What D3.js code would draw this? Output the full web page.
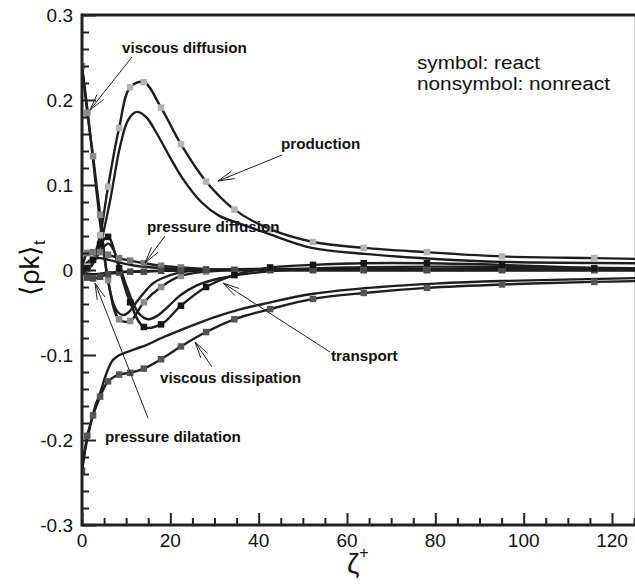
<!DOCTYPE html>
<html><head><meta charset="utf-8">
<script src="https://cdn.jsdelivr.net/npm/d3@7"></script>
<style>html,body{margin:0;padding:0;background:#fff;} svg{display:block;}</style>
</head><body>
<svg id="chart" width="635" height="585"></svg>
<script>
// ---------- data ----------
const zetaGrid = [0, 1.2, 2.5, 4.1, 5.9, 8.4, 10.9, 14.0, 17.9, 22.4, 28.1, 34.5, 42.6, 52.3, 63.8, 78.1, 95.1, 116.0, 126.0];
// reacting case (with symbols), values on zetaGrid
const productionReact      = [0, 0.004, 0.013, 0.041, 0.098, 0.167, 0.215, 0.221, 0.191, 0.148, 0.104, 0.071, 0.048, 0.033, 0.026, 0.021, 0.016, 0.014, 0.013];
const viscDiffusionReact   = [0.24, 0.185, 0.134, 0.065, -0.012, -0.058, -0.06, -0.038, -0.02, -0.007, -0.002, 0, 0, 0, 0, 0, 0, 0, 0];
const pressDiffusionReact  = [0, 0.02, 0.021, 0.021, 0.018, 0.014, 0.011, 0.008, 0.005, 0.003, 0.001, 0, 0, 0, 0, 0, 0, 0, 0];
const transportReact       = [0, 0.002, 0.012, 0.03, 0.039, 0.002, -0.038, -0.067, -0.064, -0.042, -0.02, -0.006, 0.003, 0.006, 0.008, 0.008, 0.006, 0.002, 0.001];
const viscDissipationReact = [-0.236, -0.195, -0.171, -0.149, -0.131, -0.123, -0.121, -0.116, -0.105, -0.09, -0.073, -0.058, -0.046, -0.034, -0.027, -0.021, -0.017, -0.014, -0.013];
const pressDilatationReact = [0, -0.009, -0.01, -0.008, -0.005, -0.003, -0.002, -0.002, -0.001, -0.001, 0, 0, 0, 0, 0, 0, 0, 0, 0];

// non-reacting case (no symbols)
const productionNonreactZeta = [0, 2, 4, 6.3, 8.6, 10.5, 12.4, 14.5, 17, 20, 23, 27, 31, 36, 42, 52, 64, 80, 95, 126];
const productionNonreact     = [0, 0.004, 0.028, 0.08, 0.145, 0.177, 0.186, 0.18, 0.16, 0.132, 0.106, 0.08, 0.064, 0.054, 0.043, 0.026, 0.019, 0.013, 0.0096, 0.008];
const viscDiffusionNonreactZeta = [0, 1.2, 2.5, 4, 5.5, 7, 8.2, 9.3, 10.5, 12, 14, 16, 18, 22, 28, 126];
const viscDiffusionNonreact     = [0.24, 0.19, 0.13, 0.06, 0.0, -0.038, -0.05, -0.053, -0.05, -0.04, -0.027, -0.016, -0.01, -0.003, 0, 0];
const transportNonreactZeta = [0, 1.5, 3, 4.5, 6, 7, 8.5, 10, 11.5, 13, 15, 17, 19.5, 22.2, 26, 31, 38, 46, 60, 80, 126];
const transportNonreact     = [0, 0.003, 0.012, 0.025, 0.031, 0.025, 0.005, -0.018, -0.038, -0.052, -0.058, -0.054, -0.043, -0.03, -0.018, -0.01, -0.004, 0, 0.003, 0.004, 0.002];
const pressDiffusionNonreactZeta = [0, 1, 2.5, 4, 6, 9, 12, 16, 22, 30, 126];
const pressDiffusionNonreact     = [0, 0.008, 0.013, 0.014, 0.012, 0.008, 0.005, 0.003, 0.001, 0, 0];
const pressDilatationNonreactZeta = [0, 1, 3, 6, 10, 16, 25, 126];
const pressDilatationNonreact     = [0, -0.004, -0.005, -0.003, -0.002, -0.001, 0, 0];
const viscDissipationNonreactZeta = [0, 0.6, 1.8, 3, 4.1, 5.5, 7, 8.5, 10, 12, 14.7, 18, 22.2, 29.7, 36, 41, 52.3, 67.5, 80, 95, 126];
const viscDissipationNonreact     = [-0.24, -0.215, -0.185, -0.16, -0.145, -0.122, -0.106, -0.1, -0.097, -0.093, -0.088, -0.08, -0.071, -0.056, -0.046, -0.04, -0.028, -0.02, -0.016, -0.013, -0.0095];

const xMajorTicks = [0, 20, 40, 60, 80, 100, 120];
const xTickLabels = ["0", "20", "40", "60", "80", "100", "120"];
const yMajorTicks = [-0.3, -0.2, -0.1, 0, 0.1, 0.2, 0.3];
const yTickLabels = ["-0.3", "-0.2", "-0.1", "0", "0.1", "0.2", "0.3"];

const annotations = [
  {text: "viscous diffusion",   lx: 122, ly: 53,  from: [132, 57],  tip: [90, 110]},
  {text: "production",          lx: 281, ly: 149, from: [282, 155], tip: [218, 181]},
  {text: "pressure diffusion",  lx: 147, ly: 232, from: [165, 236], tip: [145, 263]},
  {text: "transport",           lx: 331, ly: 361, from: [330, 352], tip: [223, 283]},
  {text: "viscous dissipation", lx: 160, ly: 383, from: [212, 367], tip: [195, 342]},
  {text: "pressure dilatation", lx: 105, ly: 442, from: [148, 418], tip: [95, 283]}
];
const legendLines = ["symbol: react", "nonsymbol: nonreact"];

// ---------- drawing ----------
const W = 635, H = 585;
const FONT = "'Liberation Sans', Arial, Helvetica, sans-serif";
const x = d3.scaleLinear().domain([0, 125.5]).range([82, 82 + 125.5 * 530 / 120]);
const y = d3.scaleLinear().domain([-0.3, 0.3]).range([525, 15]);
const svg = d3.select('#chart');
svg.append('rect').attr('width', W).attr('height', H).attr('fill', '#fff');

svg.append('defs').append('clipPath').attr('id', 'plotclip')
  .append('rect').attr('x', x(0)).attr('y', y(0.3)).attr('width', x(125.5) - x(0)).attr('height', y(-0.3) - y(0.3));

const line = d3.line().x(d => x(d[0])).y(d => y(d[1])).curve(d3.curveCatmullRom.alpha(0.5));
const zip = (xs, ys) => xs.map((v, i) => [v, ys[i]]);

const plot = svg.append('g').attr('clip-path', 'url(#plotclip)');
const reactSeries = [
  {vals: productionReact, color: '#b4b4b4'},
  {vals: viscDiffusionReact, color: '#8c8c8c'},
  {vals: pressDiffusionReact, color: '#777777'},
  {vals: pressDilatationReact, color: '#4a4a4a'},
  {vals: viscDissipationReact, color: '#555555'},
  {vals: transportReact, color: '#151515'}
];
const nonreactSeries = [
  zip(productionNonreactZeta, productionNonreact),
  zip(viscDiffusionNonreactZeta, viscDiffusionNonreact),
  zip(transportNonreactZeta, transportNonreact),
  zip(pressDiffusionNonreactZeta, pressDiffusionNonreact),
  zip(pressDilatationNonreactZeta, pressDilatationNonreact),
  zip(viscDissipationNonreactZeta, viscDissipationNonreact)
];
const lineStyle = sel => sel.attr('fill', 'none').attr('stroke', '#1e1e1e').attr('stroke-width', 2.4).attr('stroke-linejoin', 'round');

nonreactSeries.forEach(pts => plot.append('path').attr('d', line(pts)).call(lineStyle));
reactSeries.forEach(s => plot.append('path').attr('d', line(zip(zetaGrid, s.vals))).call(lineStyle));

const MS = 6.5;
reactSeries.forEach(s => {
  plot.append('g').selectAll('rect')
    .data(zip(zetaGrid, s.vals).filter(d => d[0] <= 120))
    .join('rect')
    .attr('x', d => x(d[0]) - MS / 2).attr('y', d => y(d[1]) - MS / 2)
    .attr('width', MS).attr('height', MS).attr('fill', s.color);
});

// ---------- annotations ----------
const ann = svg.append('g');
function arrow(from, tip) {
  ann.append('line').attr('x1', from[0]).attr('y1', from[1]).attr('x2', tip[0]).attr('y2', tip[1])
    .attr('stroke', '#222').attr('stroke-width', 1);
  const ang = Math.atan2(from[1] - tip[1], from[0] - tip[0]);
  const L = 17, a = 14 * Math.PI / 180;
  [ang - a, ang + a].forEach(t => {
    ann.append('line').attr('x1', tip[0]).attr('y1', tip[1])
      .attr('x2', tip[0] + L * Math.cos(t)).attr('y2', tip[1] + L * Math.sin(t))
      .attr('stroke', '#222').attr('stroke-width', 1);
  });
}
annotations.forEach(a => {
  arrow(a.from, a.tip);
  ann.append('text').attr('x', a.lx).attr('y', a.ly).text(a.text)
    .attr('font-family', FONT).attr('font-weight', 'bold').attr('font-size', 15.2).attr('fill', '#111');
});

// legend text
const legendWidths = [123, 193];
legendLines.forEach((t, i) => {
  const g = svg.append('g').attr('transform', `translate(417,${69 + i * 21})`);
  const tx = g.append('text').text(t).attr('font-family', FONT).attr('font-size', 19).attr('fill', '#111');
  const w = tx.node().getComputedTextLength();
  g.attr('transform', `translate(417,${69 + i * 21}) scale(${legendWidths[i] / w},1)`);
});

// ---------- axes ----------
const axCol = '#222';
const ax = svg.append('g');
const yMinor = d3.range(-15, 16).filter(i => i % 5 !== 0).map(i => i * 0.02);
const xMinor = d3.range(0, 26).filter(i => i % 4 !== 0).map(i => i * 5);
const yAxisMinor = d3.axisRight(y).tickValues(yMinor).tickSize(7).tickFormat('').tickSizeOuter(0);
const yAxisMajor = d3.axisRight(y).tickValues(yMajorTicks).tickSize(14).tickFormat('').tickSizeOuter(0);
const xAxisMinor = d3.axisTop(x).tickValues(xMinor).tickSize(7).tickFormat('').tickSizeOuter(0);
const xAxisMajor = d3.axisTop(x).tickValues(xMajorTicks).tickSize(12).tickFormat('').tickSizeOuter(0);
[yAxisMinor, yAxisMajor].forEach(a => ax.append('g').attr('transform', `translate(${x(0)},0)`).call(a));
[xAxisMinor, xAxisMajor].forEach(a => ax.append('g').attr('transform', `translate(0,${y(-0.3)})`).call(a));
ax.selectAll('.tick line').attr('stroke', axCol).attr('stroke-width', 2);
ax.selectAll('.domain').remove();
const frame = [[x(0), y(0.3), x(125.5), y(0.3)], [x(0), y(-0.3), x(125.5), y(-0.3)], [x(0), y(0.3) - 1.5, x(0), y(-0.3) + 1.5], [x(125.5), y(0.3), x(125.5), y(-0.3)]];
frame.forEach(f => ax.append('line').attr('x1', f[0]).attr('y1', f[1]).attr('x2', f[2]).attr('y2', f[3])
  .attr('stroke', axCol).attr('stroke-width', 3));

yMajorTicks.forEach((v, i) => {
  ax.append('text').attr('x', 73).attr('y', y(v) + 7).attr('text-anchor', 'end').text(yTickLabels[i])
    .attr('font-family', FONT).attr('font-size', 19).attr('fill', '#111');
});
xMajorTicks.forEach((v, i) => {
  ax.append('text').attr('x', x(v)).attr('y', 547).attr('text-anchor', 'middle').text(xTickLabels[i])
    .attr('font-family', FONT).attr('font-size', 19).attr('fill', '#111');
});

const xt = ax.append('text').attr('x', 347).attr('y', 573).attr('font-family', FONT).attr('fill', '#111');
xt.append('tspan').attr('font-size', 28).text('ζ');
xt.append('tspan').attr('font-size', 16).attr('dy', -15).text('+');

const yt = ax.append('text').attr('transform', 'translate(39,268) rotate(-90)').attr('text-anchor', 'middle')
  .attr('font-family', FONT).attr('fill', '#111');
yt.append('tspan').attr('font-size', 27).text('⟨ρk⟩');
yt.append('tspan').attr('font-size', 17).attr('dy', 6).text('t');
</script>
</body></html>
